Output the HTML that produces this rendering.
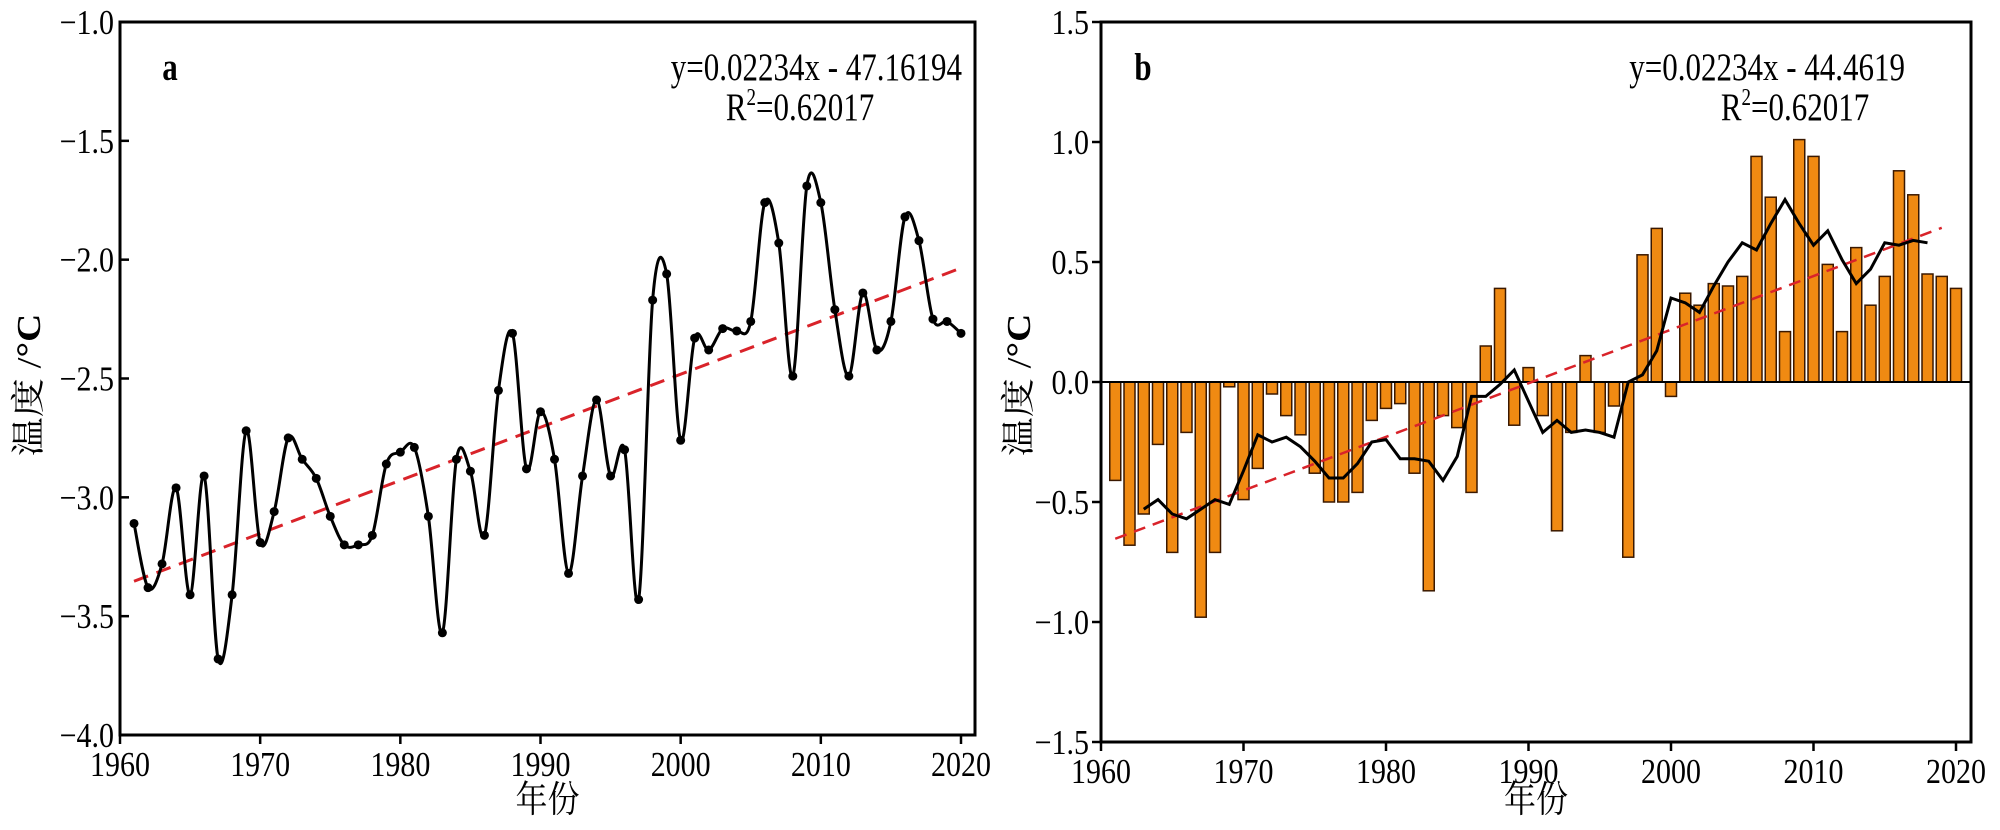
<!DOCTYPE html>
<html><head><meta charset="utf-8"><style>html,body{margin:0;padding:0;background:#fff}svg{display:block}</style></head>
<body>
<svg id="c" width="2000" height="830" viewBox="0 0 2000 830" xmlns="http://www.w3.org/2000/svg" font-family="Liberation Serif, Noto Serif CJK SC, serif"></svg>
<script>
const years = [1961,1962,1963,1964,1965,1966,1967,1968,1969,1970,1971,1972,1973,1974,1975,1976,1977,1978,1979,1980,1981,1982,1983,1984,1985,1986,1987,1988,1989,1990,1991,1992,1993,1994,1995,1996,1997,1998,1999,2000,2001,2002,2003,2004,2005,2006,2007,2008,2009,2010,2011,2012,2013,2014,2015,2016,2017,2018,2019,2020];
const tempValues = [-3.11,-3.38,-3.28,-2.96,-3.41,-2.91,-3.68,-3.41,-2.72,-3.19,-3.06,-2.75,-2.84,-2.92,-3.08,-3.20,-3.20,-3.16,-2.86,-2.81,-2.79,-3.08,-3.57,-2.84,-2.89,-3.16,-2.55,-2.31,-2.88,-2.64,-2.84,-3.32,-2.91,-2.59,-2.91,-2.80,-3.43,-2.17,-2.06,-2.76,-2.33,-2.38,-2.29,-2.30,-2.26,-1.76,-1.93,-2.49,-1.69,-1.76,-2.21,-2.49,-2.14,-2.38,-2.26,-1.82,-1.92,-2.25,-2.26,-2.31];
const anomalyValues = [-0.41,-0.68,-0.55,-0.26,-0.71,-0.21,-0.98,-0.71,-0.02,-0.49,-0.36,-0.05,-0.14,-0.22,-0.38,-0.50,-0.50,-0.46,-0.16,-0.11,-0.09,-0.38,-0.87,-0.14,-0.19,-0.46,0.15,0.39,-0.18,0.06,-0.14,-0.62,-0.21,0.11,-0.21,-0.10,-0.73,0.53,0.64,-0.06,0.37,0.32,0.41,0.40,0.44,0.94,0.77,0.21,1.01,0.94,0.49,0.21,0.56,0.32,0.44,0.88,0.78,0.45,0.44,0.39];
const maYears = [1963,1964,1965,1966,1967,1968,1969,1970,1971,1972,1973,1974,1975,1976,1977,1978,1979,1980,1981,1982,1983,1984,1985,1986,1987,1988,1989,1990,1991,1992,1993,1994,1995,1996,1997,1998,1999,2000,2001,2002,2003,2004,2005,2006,2007,2008,2009,2010,2011,2012,2013,2014,2015,2016,2017,2018];
const maValues = [-0.53,-0.49,-0.55,-0.57,-0.53,-0.49,-0.51,-0.37,-0.22,-0.25,-0.23,-0.27,-0.33,-0.40,-0.40,-0.34,-0.25,-0.24,-0.32,-0.32,-0.33,-0.41,-0.31,-0.06,-0.06,-0.01,0.05,-0.08,-0.21,-0.16,-0.21,-0.20,-0.21,-0.23,0.00,0.03,0.13,0.35,0.33,0.29,0.40,0.50,0.58,0.55,0.66,0.76,0.66,0.57,0.63,0.51,0.41,0.47,0.58,0.57,0.59,0.58];
const xTicks = [1960,1970,1980,1990,2000,2010,2020];
const yTicksA = [-4.0,-3.5,-3.0,-2.5,-2.0,-1.5,-1.0];
const yTicksB = [-1.5,-1.0,-0.5,0.0,0.5,1.0,1.5];
const trendA = [0.02234,-47.16194];
const trendB = [0.02234,-44.4619];

const svg = document.getElementById('c');
const NS = 'http://www.w3.org/2000/svg';
function mk(tag, attrs, parent){const e=document.createElementNS(NS,tag);for(const k in attrs)e.setAttribute(k,attrs[k]);(parent||svg).appendChild(e);return e;}
function txt(s,x,y,fs,anchor,sy,parent,weight){const t=mk('text',{x:0,y:0,'font-size':fs,'text-anchor':anchor,transform:`translate(${x},${y}) scale(1,${sy})`},parent);if(weight)t.setAttribute('font-weight',weight);t.textContent=s;return t;}

function panel(cfg){
  const g=mk('g',{});
  
  
  const X=v=>cfg.x0+(v-1960)/60*(cfg.x2020-cfg.x0);
  const Y=v=>cfg.yb-(v-cfg.ymin)/(cfg.ymax-cfg.ymin)*(cfg.yb-cfg.yt);
  cfg.draw(g,X,Y);
  const fr=mk('rect',{x:cfg.x0,y:cfg.yt,width:cfg.xr-cfg.x0,height:cfg.yb-cfg.yt,fill:'none',stroke:'#000','stroke-width':3},g);
  
  const xa=mk('g',{},g);
  xTicks.forEach(t=>{mk('line',{x1:X(t),x2:X(t),y1:cfg.yb,y2:cfg.yb+9,stroke:'#000','stroke-width':2.5},xa);
    const l=txt(String(t),X(t),cfg.yb+41,30,'middle',1.17,xa);});
  const ya=mk('g',{},g);
  cfg.yTicks.forEach(t=>{const y=Y(t);mk('line',{x1:cfg.x0+cfg.tickDir*9,x2:cfg.x0,y1:y,y2:y,stroke:'#000','stroke-width':2.5},ya);
    const s=(t<0?'\u2212':'')+Math.abs(t).toFixed(1);
    const l=txt(s,cfg.x0-(cfg.tickDir<0?12:6),y+12,30,'end',1.17,ya);});
  const xt=txt('年份',(cfg.x0+cfg.xr)/2,812,32,'middle',1.15,g);
  const yt=mk('text',{x:0,y:0,'font-size':34,'text-anchor':'middle',transform:`translate(${cfg.ytx},385) rotate(-90) scale(1.15,1)`},g);
  yt.innerHTML='温度 /<tspan font-weight="bold">°C</tspan>';
  
  const pl=txt(cfg.label,cfg.labx,80,31,'middle',1.25,g,'bold');
  const eq=txt(cfg.eq,cfg.eqx,80,31,'end',1.25,g);
  const r2=mk('text',{x:0,y:0,'font-size':31,'text-anchor':'middle',transform:`translate(${cfg.r2x},120) scale(1,1.25)`},g);
  r2.innerHTML='R<tspan dy="-12" font-size="19">2</tspan><tspan dy="12">=0.62017</tspan>';
  
}
function smoothPath(pts){let d=`M${pts[0][0]},${pts[0][1]}`;for(let i=0;i<pts.length-1;i++){const p0=pts[Math.max(0,i-1)],p1=pts[i],p2=pts[i+1],p3=pts[Math.min(pts.length-1,i+2)];
  const c1=[p1[0]+(p2[0]-p0[0])/6,p1[1]+(p2[1]-p0[1])/6],c2=[p2[0]-(p3[0]-p1[0])/6,p2[1]-(p3[1]-p1[1])/6];d+=` C${c1[0]},${c1[1]} ${c2[0]},${c2[1]} ${p2[0]},${p2[1]}`;}return d;}

panel({name:'panel-a',x0:120,x2020:961,xr:975,yt:22,yb:735,ymin:-4,ymax:-1,yTicks:yTicksA,tickDir:1,ytx:40,label:'a',labx:170,eq:'y=0.02234x - 47.16194',eqx:962,r2x:800,
 draw(g,X,Y){
  const tr=mk('line',{x1:X(1961),y1:Y(trendA[0]*1961+trendA[1]),x2:X(2020),y2:Y(trendA[0]*2020+trendA[1]),stroke:'#d9232a','stroke-width':3,'stroke-dasharray':'15 9'},g);
  
  const pts=years.map((yr,i)=>[X(yr),Y(tempValues[i])]);
  const p=mk('path',{d:smoothPath(pts),fill:'none',stroke:'#000','stroke-width':3},g);
  
  pts.forEach(q=>{const c=mk('circle',{cx:q[0],cy:q[1],r:4.5,fill:'#000'},g);
    });
 }});
panel({name:'panel-b',x0:1101,x2020:1956,xr:1971,yt:22,yb:742,ymin:-1.5,ymax:1.5,yTicks:yTicksB,tickDir:-1,ytx:1030,label:'b',labx:1143,eq:'y=0.02234x - 44.4619',eqx:1905,r2x:1795,
 draw(g,X,Y){
  years.forEach((yr,i)=>{const v=anomalyValues[i];const y0=Y(0),y1=Y(v);
    const b=mk('rect',{x:X(yr)-5.5,y:Math.min(y0,y1),width:11,height:Math.abs(y1-y0),fill:'#f08a12',stroke:'#3a1800','stroke-width':1.5},g);
    });
  const z=mk('line',{x1:X(1960),x2:1971,y1:Y(0),y2:Y(0),stroke:'#000','stroke-width':2},g);
  
  const tr=mk('line',{x1:X(1961),y1:Y(trendB[0]*1961+trendB[1]),x2:X(2019),y2:Y(trendB[0]*2019+trendB[1]),stroke:'#d9232a','stroke-width':2.5,'stroke-dasharray':'12 8'},g);
  
  const d=maYears.map((yr,i)=>(i?'L':'M')+X(yr)+','+Y(maValues[i])).join(' ');
  const p=mk('path',{d:d,fill:'none',stroke:'#000','stroke-width':3},g);
  
 }});
</script>
</body></html>
